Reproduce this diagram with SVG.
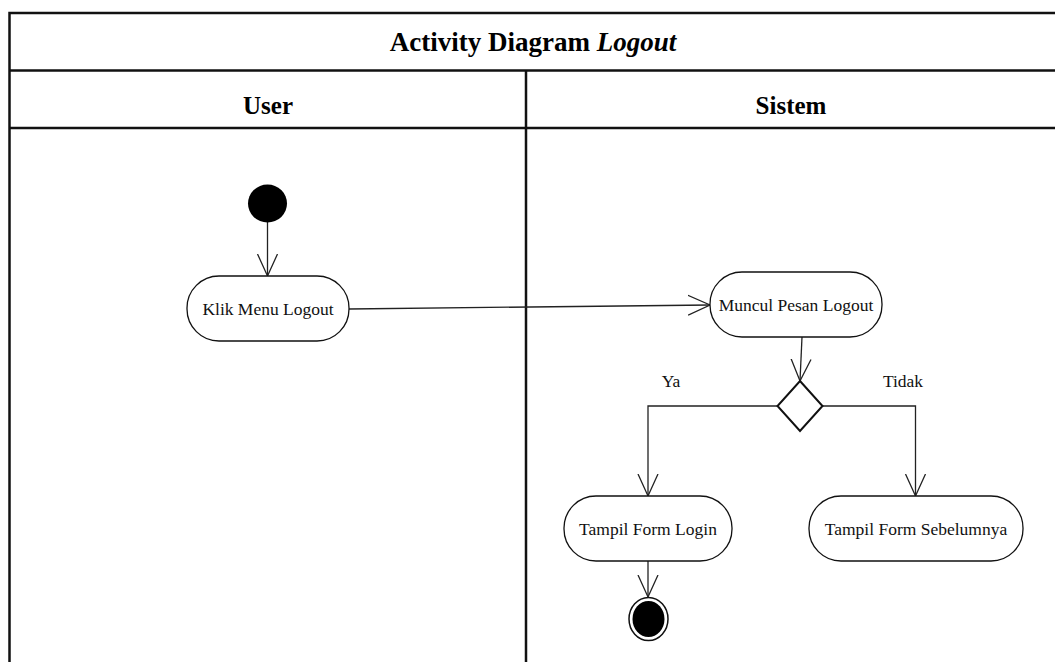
<svg xmlns="http://www.w3.org/2000/svg" width="1055" height="662" viewBox="0 0 1055 662">
<style>
.frame{fill:none;stroke:#111;stroke-width:2.5}
.node{fill:#fff;stroke:#111;stroke-width:1.3}
.edge{fill:none;stroke:#222;stroke-width:1.3}
.lbl{font-family:"Liberation Serif","Times New Roman",serif;font-size:17.5px;fill:#111;text-anchor:middle}
.hdr{font-family:"Liberation Serif","Times New Roman",serif;font-size:25px;font-weight:bold;fill:#000;text-anchor:middle}
</style>
<defs>
<marker id="arr" markerWidth="24" markerHeight="24" refX="22" refY="11" orient="auto" markerUnits="userSpaceOnUse">
<path d="M0,1 L22,11 L0,21" fill="none" stroke="#222" stroke-width="1.3"/>
</marker>
</defs>
<rect width="1055" height="662" fill="#fff"/>
<g id="frame">
<path class="frame" d="M1060,13 L9.5,13 L9.5,665"/>
<line class="frame" x1="9.5" y1="70.5" x2="1060" y2="70.5"/>
<line class="frame" x1="9.5" y1="128" x2="1060" y2="128"/>
<line class="frame" x1="526" y1="70.5" x2="526" y2="665"/>
<text class="hdr" x="533" y="51" style="font-size:27px">Activity Diagram <tspan font-style="italic">Logout</tspan></text>
<text class="hdr" x="268" y="114">User</text>
<text class="hdr" x="791" y="114">Sistem</text>
</g>
<g id="connectors">
<line class="edge" x1="267.5" y1="222" x2="267.5" y2="276" marker-end="url(#arr)"/>
<line class="edge" x1="349" y1="309" x2="710" y2="305" marker-end="url(#arr)"/>
<line class="edge" x1="802" y1="337" x2="800" y2="381" marker-end="url(#arr)"/>
<polyline class="edge" points="777.5,406 648,406 648,496" marker-end="url(#arr)"/>
<polyline class="edge" points="822.5,406 915.5,406 915.5,496" marker-end="url(#arr)"/>
<line class="edge" x1="648" y1="561" x2="648" y2="597" marker-end="url(#arr)"/>
<text class="lbl" x="671" y="387">Ya</text>
<text class="lbl" x="903" y="387">Tidak</text>
</g>
<g id="start">
<ellipse cx="267.5" cy="203.5" rx="19.5" ry="19" fill="#000"/>
</g>
<g id="klik">
<rect class="node" x="187" y="276" width="162" height="65" rx="32" ry="32"/>
<text class="lbl" x="268" y="315">Klik Menu Logout</text>
</g>
<g id="muncul">
<rect class="node" x="710" y="272" width="172" height="65" rx="32" ry="32"/>
<text class="lbl" x="796" y="311">Muncul Pesan Logout</text>
</g>
<g id="decision">
<polygon points="800,381 822.5,406 800,431 777.5,406" fill="#fff" stroke="#111" stroke-width="2"/>
</g>
<g id="login">
<rect class="node" x="564" y="496" width="168" height="65" rx="32" ry="32"/>
<text class="lbl" x="648" y="535">Tampil Form Login</text>
</g>
<g id="sebelumnya">
<rect class="node" x="809" y="496" width="214" height="65" rx="32" ry="32"/>
<text class="lbl" x="916" y="535">Tampil Form Sebelumnya</text>
</g>
<g id="end">
<ellipse cx="648.5" cy="619" rx="19.5" ry="21.5" fill="#fff" stroke="#111" stroke-width="1.5"/>
<ellipse cx="648.5" cy="619" rx="16" ry="18" fill="#000"/>
</g>
</svg>
